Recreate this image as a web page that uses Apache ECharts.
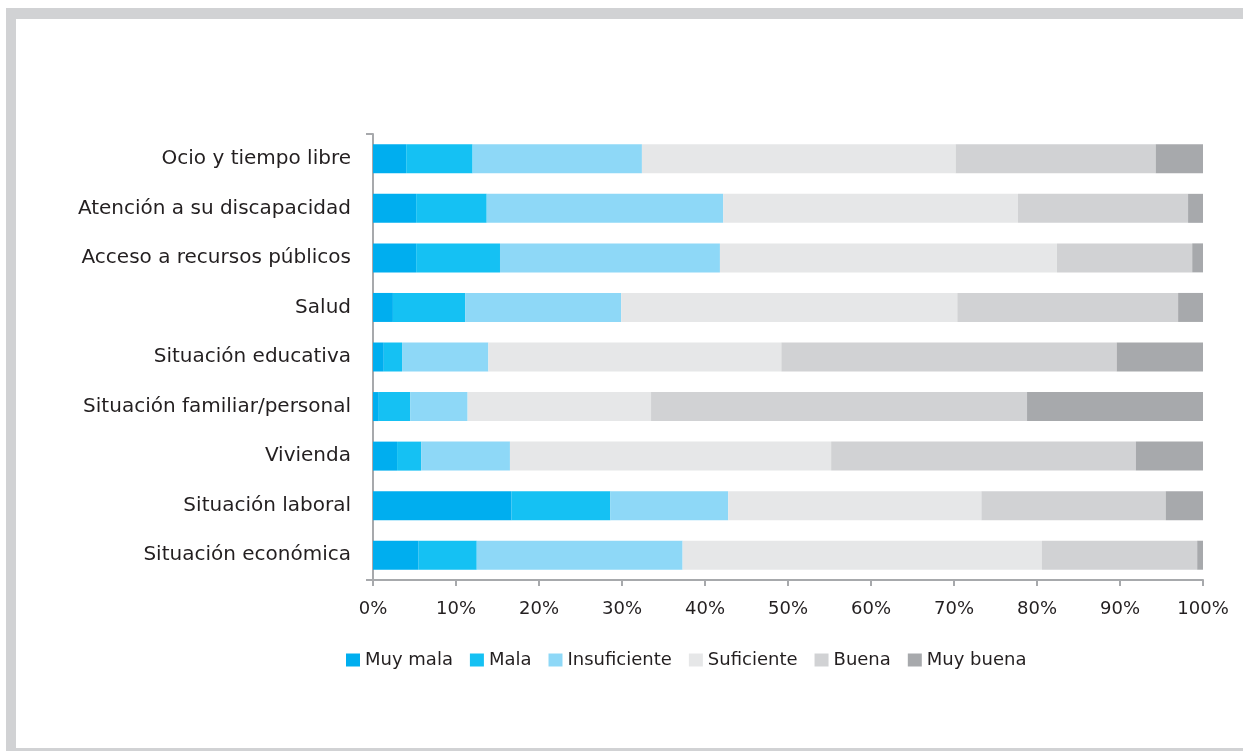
<!DOCTYPE html>
<html>
<head>
<meta charset="utf-8">
<title>Valoración por ámbitos</title>
<script src="https://cdn.jsdelivr.net/npm/echarts@6/dist/echarts.min.js"></script>
<style>
  html, body { margin: 0; padding: 0; background: #fff; }
  body { width: 1243px; height: 751px; position: relative; overflow: hidden; }
  .frame {
    position: absolute; left: 6px; top: 8px; width: 1237px; height: 743px;
    box-sizing: border-box;
    border-top: 11px solid #d1d2d4; border-left: 10px solid #d1d2d4; border-bottom: 3px solid #d1d2d4;
  }
  #chart { position: absolute; left: 0; top: 0; width: 1243px; height: 751px; }
</style>
</head>
<body>
<div class="frame"></div>
<div id="chart"></div>
<script>
// categorías (de arriba a abajo)
var categories = [
  'Ocio y tiempo libre',
  'Atención a su discapacidad',
  'Acceso a recursos públicos',
  'Salud',
  'Situación educativa',
  'Situación familiar/personal',
  'Vivienda',
  'Situación laboral',
  'Situación económica'
];
var xTicks = [0, 10, 20, 30, 40, 50, 60, 70, 80, 90, 100]; // %

// valores en % por respuesta
var muyMala      = [4.0, 5.2, 5.2, 2.4, 1.3, 0.7, 2.9, 16.7, 5.5];
var mala         = [8.0, 8.5, 10.1, 8.7, 2.2, 3.8, 2.9, 11.9, 7.0];
var insuficiente = [20.4, 28.5, 26.5, 18.8, 10.4, 6.9, 10.7, 14.2, 24.8];
var suficiente   = [37.8, 35.5, 40.6, 40.5, 35.3, 22.1, 38.7, 30.5, 43.3];
var buena        = [24.1, 20.5, 16.3, 26.6, 40.4, 45.3, 36.7, 22.2, 18.7];
var muyBuena     = [5.7, 1.8, 1.3, 3.0, 10.4, 21.2, 8.1, 4.5, 0.7];

var seriesNames = ['Muy mala', 'Mala', 'Insuficiente', 'Suficiente', 'Buena', 'Muy buena'];
var seriesData = [muyMala, mala, insuficiente, suficiente, buena, muyBuena];
var colors = ['#00aeef', '#15c1f3', '#8ed8f7', '#e6e7e8', '#d1d2d4', '#a7a9ac'];

var textColor = '#231f20';
var axisColor = '#a7a9ac';

var myChart = echarts.init(document.getElementById('chart'));

var series = seriesNames.map(function (name, i) {
  return {
    name: name,
    type: 'bar',
    stack: 'total',
    barWidth: 29,
    itemStyle: { color: colors[i] },
    emphasis: { disabled: true },
    data: seriesData[i]
  };
});

var option = {
  animation: false,
  color: colors,
  textStyle: { fontFamily: 'DejaVu Sans' },
  grid: {
    left: 373,
    top: 134,
    width: 830,
    height: 446,
    containLabel: false
  },
  legend: {
    left: 341,
    top: 646,
    itemWidth: 14,
    itemHeight: 13,
    itemGap: 17,
    icon: 'rect',
    textStyle: { color: textColor, fontSize: 18, fontFamily: 'DejaVu Sans' },
    data: seriesNames
  },
  xAxis: {
    type: 'value',
    min: xTicks[0],
    max: xTicks[xTicks.length - 1],
    interval: 10,
    axisLine: { show: true, lineStyle: { color: axisColor, width: 2 } },
    axisTick: { show: true, length: 6, lineStyle: { color: axisColor, width: 2 } },
    splitLine: { show: false },
    axisLabel: {
      formatter: '{value}%',
      color: textColor,
      fontSize: 18,
      margin: 20
    }
  },
  yAxis: {
    type: 'category',
    inverse: true,
    data: categories,
    axisLine: { show: true, lineStyle: { color: axisColor, width: 2 } },
    axisTick: {
      show: true,
      length: 7,
      // solo los extremos del eje
      interval: function (index) { return index === 0; },
      lineStyle: { color: axisColor, width: 2 }
    },
    axisLabel: {
      color: textColor,
      fontSize: 20,
      margin: 22
    }
  },
  series: series
};

myChart.setOption(option);
</script>
</body>
</html>
